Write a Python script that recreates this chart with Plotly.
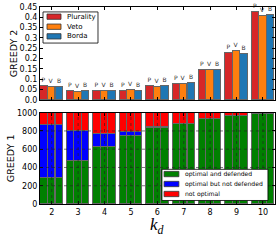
import plotly.graph_objects as go

# ---------------- data ----------------
kd = [2, 3, 4, 5, 6, 7, 8, 9, 10]
rules = ["Plurality", "Veto", "Borda"]
rule_short = ["P", "V", "B"]
g2_plurality = [0.066, 0.045, 0.042, 0.045, 0.066, 0.076, 0.145, 0.228, 0.425]
g2_veto = [0.064, 0.040, 0.042, 0.048, 0.063, 0.075, 0.143, 0.239, 0.406]
g2_borda = [0.063, 0.044, 0.042, 0.044, 0.068, 0.081, 0.145, 0.223, 0.413]
g1_categories = ["optimal and defended", "optimal but not defended", "not optimal"]
g1_opt_def = [288, 471, 632, 752, 838, 884, 934, 971, 989]
g1_opt_notdef = [577, 329, 138, 40, 4, 0, 0, 0, 0]
g1_not_opt = [135, 200, 230, 208, 158, 116, 66, 29, 11]
top_ticks = [0.0, 0.05, 0.1, 0.15, 0.2, 0.25, 0.3, 0.35, 0.4, 0.45]
top_ticklabels = ["0.0", "0.05", "0.1", "0.15", "0.2", "0.25", "0.3", "0.35", "0.4", "0.45"]
bottom_ticks = [0, 200, 400, 600, 800, 1000]

# ---------------- style ----------------
rule_colors = ["#d62728", "#ff7f0e", "#1f77b4"]
cat_colors = ["#008000", "#0000ff", "#ff0000"]
offsets = [-0.285, 0.0, 0.285]
bar_w = 0.28
edge = dict(color="#666666", width=1)
FONT = "DejaVu Sans"
XR = [1.557, 10.455]

fig = go.Figure()

g2_values = [g2_plurality, g2_veto, g2_borda]
for i, name in enumerate(rules):
    fig.add_trace(go.Bar(
        x=[k + offsets[i] for k in kd], y=g2_values[i], width=bar_w,
        name=name, marker=dict(color=rule_colors[i], line=edge),
        text=[rule_short[i]] * len(kd), textposition="outside",
        textfont=dict(size=6, color="#333333", family=FONT),
        constraintext="none", cliponaxis=False, showlegend=False,
        xaxis="x", yaxis="y",
    ))

g1_values = [g1_opt_def, g1_opt_notdef, g1_not_opt]
for c, cname in enumerate(g1_categories):
    for i in range(len(rules)):
        fig.add_trace(go.Bar(
            x=[k + offsets[i] for k in kd], y=g1_values[c], width=bar_w,
            name=cname, marker=dict(color=cat_colors[c], line=edge),
            showlegend=False, xaxis="x2", yaxis="y2",
        ))

shapes = []
annotations = []
# dotted grid drawn above bars in the lower panel (as in the original)
for k in kd:
    shapes.append(dict(type="line", xref="x2", yref="y2 domain", x0=k, x1=k, y0=0, y1=1,
                       line=dict(color="#222222", width=0.6, dash="dot"), layer="above"))
for t in bottom_ticks[1:-1]:
    shapes.append(dict(type="line", xref="x2 domain", yref="y2", x0=0, x1=1, y0=t, y1=t,
                       line=dict(color="#222222", width=0.6, dash="dot"), layer="above"))


# compact matplotlib-like legends (paper coordinates)
def add_legend(names, colors, box, sw_x, txt_x, ys, half_h, fsize):
    shapes.append(dict(type="rect", xref="paper", yref="paper",
                       x0=box[0], x1=box[1], y0=box[2], y1=box[3],
                       fillcolor="white", line=dict(color="black", width=0.8), layer="above"))
    for n, col, yc in zip(names, colors, ys):
        shapes.append(dict(type="rect", xref="paper", yref="paper",
                           x0=sw_x[0], x1=sw_x[1], y0=yc - half_h, y1=yc + half_h,
                           fillcolor=col, line=dict(color="#333333", width=0.8), layer="above"))
        annotations.append(dict(xref="paper", yref="paper", x=txt_x, y=yc, text=n,
                                showarrow=False, xanchor="left", yanchor="middle",
                                font=dict(family=FONT, size=fsize, color="black")))


add_legend(rules, rule_colors, (0.0128, 0.2468, 0.817, 0.975), (0.0298, 0.0894), 0.1064,
           [0.951, 0.900, 0.851], 0.0135, 7)
add_legend(g1_categories, cat_colors, (0.519, 0.970, 0.0178, 0.176), (0.528, 0.591), 0.6085,
           [0.152, 0.1015, 0.0508], 0.0135, 6.1)

annotations.append(dict(xref="paper", yref="paper", x=0.498, y=-0.112,
                        text="<i>k</i><sub><i>d</i></sub>", showarrow=False,
                        xanchor="center", yanchor="middle",
                        font=dict(family="Liberation Serif", size=17, color="black")))

axis_common = dict(showline=True, linecolor="black", linewidth=1, mirror="ticks",
                   ticks="inside", ticklen=3, tickcolor="black", showgrid=False,
                   zeroline=False, automargin=False,
                   tickfont=dict(family=FONT, size=8, color="black"))

fig.update_layout(
    width=280, height=240,
    margin=dict(l=40, r=5, t=7, b=36),
    paper_bgcolor="white", plot_bgcolor="white",
    barmode="stack", bargap=0, showlegend=False,
    font=dict(family=FONT, size=8, color="black"),
    shapes=shapes, annotations=annotations,
    xaxis=dict(domain=[0, 1], anchor="y", range=XR, tickvals=kd, showticklabels=False, **axis_common),
    yaxis=dict(domain=[0.528, 1], anchor="x", range=[0, 0.45], tickvals=top_ticks,
               ticktext=top_ticklabels,
               title=dict(text="GREEDY 2", font=dict(family=FONT, size=9.5), standoff=0),
               **axis_common),
    xaxis2=dict(domain=[0, 1], anchor="y2", range=XR, tickvals=kd, **axis_common),
    yaxis2=dict(domain=[0, 0.4635], anchor="x2", range=[0, 1000], tickvals=bottom_ticks,
                title=dict(text="GREEDY 1", font=dict(family=FONT, size=9.5), standoff=0),
                **axis_common),
)

fig.write_html("out.html", config={"displayModeBar": False},
               post_script="document.body.style.margin='0';")
